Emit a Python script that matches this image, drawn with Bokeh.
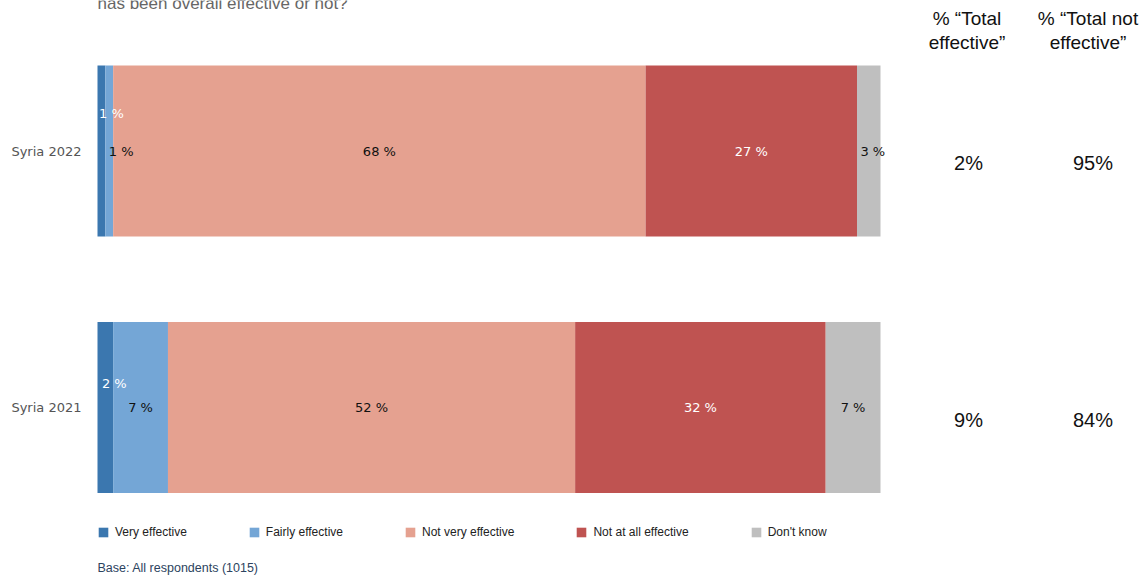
from bokeh.plotting import figure
from bokeh.models import Range1d, ColumnDataSource, Legend, LegendItem
from bokeh.core.properties import value
from bokeh.embed import file_html
from bokeh.resources import INLINE

# ---- data ----
categories = ["Syria 2022", "Syria 2021"]
series = ["Very effective", "Fairly effective", "Not very effective", "Not at all effective", "Don't know"]
very_effective = [1, 2]
fairly_effective = [1, 7]
not_very_effective = [68, 52]
not_at_all_effective = [27, 32]
dont_know = [3, 7]
title_text = "has been overall effective or not?"
header_effective = ["% \u201cTotal", "effective\u201d"]
header_not_effective = ["% \u201cTotal not", "effective\u201d"]
base_text = "Base: All respondents (1015)"

colors = ["#3b77af", "#74a6d6", "#e5a190", "#bf5351", "#bfbfbf"]
text_colors = ["white", "#111111", "#111111", "white", "#111111"]

W, H = 1148, 576
X0, XS = 97.0, 7.83          # frame px of 0 %, px per %
Y0, YS = 150.5, 256.5        # frame px of first category centre, px per category
FONT = value("Liberation Sans")
LFONT = value("DejaVu Sans")

def dx(px):
    return (px - X0) / XS

def dy(py):
    return (py - Y0) / YS

p = figure(width=W, height=H, output_backend="svg", toolbar_location=None,
           x_range=Range1d(dx(0), dx(W)), y_range=Range1d(dy(H), dy(0)),
           min_border=0, outline_line_color=None)
p.axis.visible = False
p.grid.visible = False

cols = ["v", "f", "nv", "na", "dk"]
vals = [very_effective, fairly_effective, not_very_effective, not_at_all_effective, dont_know]
src = ColumnDataSource(dict(y=list(range(len(categories))), **{c: v for c, v in zip(cols, vals)}))
renderers = p.hbar_stack(cols, y="y", height=2 / 3, color=colors, line_color=None, source=src)

# segment labels
lx, ly, lt, lc, lxo, lyo = [], [], [], [], [], []
offsets = {(0, 0): (10, -38), (0, 1): (12, 0), (0, 4): (4, 0), (1, 0): (9, -24)}
for i in range(len(categories)):
    left = 0
    for j, v in enumerate(vals):
        w = v[i]
        lx.append(left + w / 2)
        ly.append(i)
        lt.append(f"{w} %")
        lc.append(text_colors[j])
        ox, oy = offsets.get((i, j), (0, 0))
        lxo.append(ox)
        lyo.append(oy)
        left += w
p.text(x=lx, y=ly, text=lt, text_color=lc, x_offset=lxo, y_offset=lyo,
       text_align="center", text_baseline="middle", text_font=LFONT, text_font_size="13px")

# category labels
p.text(x=[dx(81)] * len(categories), y=list(range(len(categories))), text=categories,
       text_align="right", text_baseline="middle", text_font=LFONT, text_font_size="13px",
       text_color="#555555")

# totals
tot_eff = [a + b for a, b in zip(very_effective, fairly_effective)]
tot_not = [a + b for a, b in zip(not_very_effective, not_at_all_effective)]
ys = list(range(len(categories)))
p.text(x=[dx(968)] * len(ys), y=ys, text=[f"{t}%" for t in tot_eff], y_offset=12,
       text_align="center", text_baseline="middle", text_font=FONT, text_font_size="20px",
       text_color="#111111")
p.text(x=[dx(1092.5)] * len(ys), y=ys, text=[f"{t}%" for t in tot_not], y_offset=12,
       text_align="center", text_baseline="middle", text_font=FONT, text_font_size="20px",
       text_color="#111111")

# headers
p.text(x=[dx(966.5)] * 2, y=[dy(18), dy(42)], text=header_effective,
       text_align="center", text_baseline="middle", text_font=FONT, text_font_size="19px",
       text_color="#111111")
p.text(x=[dx(1087.5)] * 2, y=[dy(18), dy(42)], text=header_not_effective,
       text_align="center", text_baseline="middle", text_font=FONT, text_font_size="19px",
       text_color="#111111")

# cut-off title line
p.text(x=[dx(97)], y=[dy(3)], text=[title_text], text_align="left", text_baseline="alphabetic",
       text_font=FONT, text_font_size="17px", text_color="#666666")

# base note
p.text(x=[dx(97)], y=[dy(567)], text=[base_text], text_align="left", text_baseline="middle",
       text_font=FONT, text_font_size="12.5px", text_color="#2c4360")

legend = Legend(items=[LegendItem(label=s, renderers=[r]) for s, r in zip(series, renderers)],
                orientation="horizontal", location=(97, 37),
                glyph_width=12, glyph_height=12, label_height=12, label_standoff=6,
                spacing=61, padding=0, margin=0, border_line_color=None,
                background_fill_alpha=0, label_text_font="Liberation Sans",
                label_text_font_size="12px", label_text_color="#222222")
p.add_layout(legend)

open("out.html", "w").write(file_html(p, INLINE))
